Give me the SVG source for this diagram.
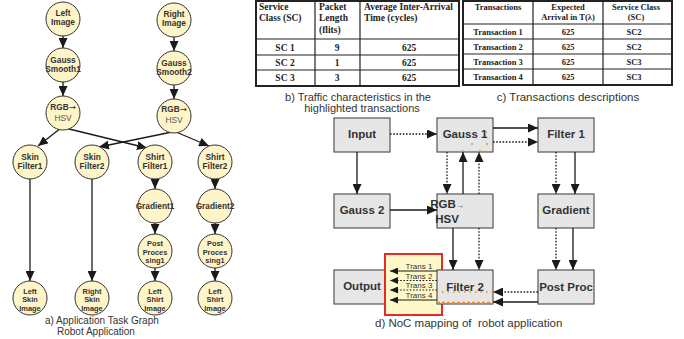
<svg xmlns="http://www.w3.org/2000/svg" width="684" height="339" viewBox="0 0 684 339">
<defs>
<marker id="ah" markerUnits="userSpaceOnUse" markerWidth="10" markerHeight="9" refX="10" refY="4.5" orient="auto"><path d="M0,0 L10,4.5 L0,9 Z" fill="#1a1a1a"/></marker>
<marker id="ahs" markerUnits="userSpaceOnUse" markerWidth="8" markerHeight="7" refX="8" refY="3.5" orient="auto"><path d="M0,0 L8,3.5 L0,7 Z" fill="#1a1a1a"/></marker>
</defs>
<style>
.c{fill:#FFF5C9;stroke:#333;stroke-width:1}
.ct{font-family:"Liberation Sans",Arial,sans-serif;font-size:8.3px;font-weight:bold;fill:#333;text-anchor:middle}
.c3{font-size:7.4px}
.hsv{font-weight:normal;fill:#555}
.ar{font-family:"DejaVu Sans",sans-serif;font-weight:normal}
.ln{stroke:#1a1a1a;stroke-width:1.3;fill:none;marker-end:url(#ah)}
.dt{stroke-dasharray:1.6 1.6}
.lns{stroke:#1a1a1a;stroke-width:1.2;fill:none;marker-end:url(#ahs)}
.box{fill:#E6E6E6;stroke:#555;stroke-width:1.2}
.bt{font-family:"Liberation Sans",Arial,sans-serif;font-size:11.5px;font-weight:bold;fill:#333;text-anchor:middle}
.tr{font-family:"Liberation Sans",Arial,sans-serif;font-size:8px;fill:#333;text-anchor:middle}
.cap{font-family:"Liberation Sans",Arial,sans-serif;fill:#333}
.tb{fill:#fff;stroke:#222;stroke-width:2}
.tl{stroke:#222;stroke-width:1.2}
.th{font-family:"Liberation Serif","Times New Roman",serif;font-weight:bold;fill:#222}
.or{stroke:#F08A24;stroke-width:1.3;fill:none}
</style>

<!-- a) task graph -->
<g id="task-graph-connectors">
<path class="ln" d="M63,36 V48"/>
<path class="ln" d="M63,82 V96"/>
<path class="ln" d="M174,37 V51"/>
<path class="ln" d="M174,85 V99"/>
<path class="ln" d="M61,128 L38,146"/>
<path class="ln" d="M65,128 L147,148"/>
<path class="ln" d="M172,132 L99,147"/>
<path class="ln" d="M176,132 L209,146"/>
<path class="ln" d="M30,179 V281"/>
<path class="ln" d="M92,179 V281"/>
<path class="ln" d="M155,179 V189"/>
<path class="ln" d="M155,223 V234"/>
<path class="ln" d="M155,268 V281"/>
<path class="ln" d="M215,179 V189"/>
<path class="ln" d="M215,223 V234"/>
<path class="ln" d="M215,268 V281"/>
</g>
<g id="t-left-image"><circle class="c" cx="63" cy="19" r="17"/><text class="ct" x="63" y="15.5">Left</text><text class="ct" x="63" y="24.5">Image</text></g>
<g id="t-gauss1"><circle class="c" cx="63" cy="65" r="17"/><text class="ct" x="63" y="62.5">Gauss</text><text class="ct" x="63" y="71.5">Smooth1</text></g>
<g id="t-rgb1"><circle class="c" cx="63" cy="113" r="17"/><text class="ct" x="63" y="110">RGB<tspan class="ar">→</tspan></text><text class="ct hsv" x="63" y="121">HSV</text></g>
<g id="t-right-image"><circle class="c" cx="174" cy="20" r="17"/><text class="ct" x="174" y="17">Right</text><text class="ct" x="174" y="26">Image</text></g>
<g id="t-gauss2"><circle class="c" cx="174" cy="68" r="17"/><text class="ct" x="174" y="65.5">Gauss</text><text class="ct" x="174" y="74.5">Smooth2</text></g>
<g id="t-rgb2"><circle class="c" cx="174" cy="116" r="17"/><text class="ct" x="174" y="112">RGB<tspan class="ar">→</tspan></text><text class="ct hsv" x="174" y="123">HSV</text></g>
<g id="t-skin1"><circle class="c" cx="30" cy="162" r="17"/><text class="ct" x="30" y="159.5">Skin</text><text class="ct" x="30" y="168.5">Filter1</text></g>
<g id="t-skin2"><circle class="c" cx="92" cy="162" r="17"/><text class="ct" x="92" y="159.5">Skin</text><text class="ct" x="92" y="168.5">Filter2</text></g>
<g id="t-shirt1"><circle class="c" cx="155" cy="162" r="17"/><text class="ct" x="155" y="159.5">Shirt</text><text class="ct" x="155" y="168.5">Filter1</text></g>
<g id="t-shirt2"><circle class="c" cx="215" cy="162" r="17"/><text class="ct" x="215" y="159.5">Shirt</text><text class="ct" x="215" y="168.5">Filter2</text></g>
<g id="t-grad1"><circle class="c" cx="155" cy="206" r="17"/><text class="ct" x="155" y="209">Gradient1</text></g>
<g id="t-grad2"><circle class="c" cx="215" cy="206" r="17"/><text class="ct" x="215" y="209">Gradient2</text></g>
<g id="t-post1"><circle class="c" cx="155" cy="251" r="17"/><text class="ct c3" x="155" y="246">Post</text><text class="ct c3" x="155" y="254.5">Proces</text><text class="ct c3" x="155" y="263">sing1</text></g>
<g id="t-post2"><circle class="c" cx="215" cy="251" r="17"/><text class="ct c3" x="215" y="246">Post</text><text class="ct c3" x="215" y="254.5">Proces</text><text class="ct c3" x="215" y="263">sing1</text></g>
<g id="t-left-skin"><circle class="c" cx="30" cy="298" r="17"/><text class="ct c3" x="30" y="293.5">Left</text><text class="ct c3" x="30" y="302">Skin</text><text class="ct c3" x="30" y="310.5">Image</text></g>
<g id="t-right-skin"><circle class="c" cx="92" cy="298" r="17"/><text class="ct c3" x="92" y="293.5">Right</text><text class="ct c3" x="92" y="302">Skin</text><text class="ct c3" x="92" y="310.5">Image</text></g>
<g id="t-left-shirt1"><circle class="c" cx="155" cy="298" r="17"/><text class="ct c3" x="155" y="293.5">Left</text><text class="ct c3" x="155" y="302">Shirt</text><text class="ct c3" x="155" y="310.5">Image</text></g>
<g id="t-left-shirt2"><circle class="c" cx="215" cy="298" r="17"/><text class="ct c3" x="215" y="293.5">Left</text><text class="ct c3" x="215" y="302">Shirt</text><text class="ct c3" x="215" y="310.5">Image</text></g>
<text class="cap" x="45" y="324" font-size="10">a) Application Task Graph</text>
<text class="cap" x="57" y="335" font-size="10">Robot Application</text>

<!-- b) table -->
<g id="table-b">
<rect class="tb" x="256" y="1" width="203" height="85"/>
<path class="tl" d="M315,1 V86 M360,1 V86 M256,39 H459 M256,55 H459 M256,70 H459"/>
<g class="th" font-size="9.5">
<text x="259" y="10">Service</text><text x="259" y="21">Class (SC)</text>
<text x="319" y="10">Packet</text><text x="319" y="21">Length</text><text x="319" y="33">(flits)</text>
<text x="364" y="10">Average Inter-Arrival</text><text x="364" y="21">Time (cycles)</text>
</g>
<g class="th" font-size="9.5" text-anchor="middle">
<text x="285" y="51">SC 1</text><text x="337" y="51">9</text><text x="409" y="51">625</text>
<text x="285" y="66">SC 2</text><text x="337" y="66">1</text><text x="409" y="66">625</text>
<text x="285" y="81">SC 3</text><text x="337" y="81">3</text><text x="409" y="81">625</text>
</g>
</g>
<text class="cap" x="358" y="101" font-size="11" text-anchor="middle">b) Traffic characteristics in the</text>
<text class="cap" x="362" y="112" font-size="11" text-anchor="middle">highlighted transactions</text>

<!-- c) table -->
<g id="table-c">
<rect class="tb" x="463" y="1" width="209" height="84"/>
<path class="tl" d="M533,1 V85 M603,1 V85 M463,24 H672 M463,39 H672 M463,54 H672 M463,69 H672"/>
<g class="th" font-size="8.5" text-anchor="middle">
<text x="498" y="10">Transactions</text>
<text x="568" y="10">Expected</text><text x="568" y="20">Arrival in T(λ)</text>
<text x="636" y="10">Service Class</text><text x="636" y="20">(SC)</text>
<text x="498" y="35">Transaction 1</text><text x="568" y="35">625</text><text x="634" y="35">SC2</text>
<text x="498" y="50">Transaction 2</text><text x="568" y="50">625</text><text x="634" y="50">SC2</text>
<text x="498" y="65">Transaction 3</text><text x="568" y="65">625</text><text x="634" y="65">SC3</text>
<text x="498" y="80">Transaction 4</text><text x="568" y="80">625</text><text x="634" y="80">SC3</text>
</g>
</g>
<text class="cap" x="568" y="101" font-size="11.5" text-anchor="middle">c) Transactions descriptions</text>

<!-- d) NoC mapping -->
<g id="n-input"><rect class="box" x="334" y="118" width="56" height="34"/><text class="bt" x="362" y="138">Input</text></g>
<g id="n-gauss1"><rect class="box" x="437" y="118" width="56" height="34"/><text class="bt" x="465" y="138">Gauss 1</text></g>
<g id="n-filter1"><rect class="box" x="538" y="118" width="56" height="34"/><text class="bt" x="566" y="138">Filter 1</text></g>
<g id="n-gauss2"><rect class="box" x="334" y="194" width="56" height="34"/><text class="bt" x="362" y="214">Gauss 2</text></g>
<g id="n-rgb"><rect class="box" x="437" y="194" width="56" height="34"/><text class="bt" x="447" y="208" text-anchor="start">RGB<tspan font-size="8">→</tspan></text><text class="bt" x="447" y="223" text-anchor="start" font-weight="normal">HSV</text></g>
<g id="n-gradient"><rect class="box" x="538" y="194" width="56" height="34"/><text class="bt" x="566" y="214">Gradient</text></g>
<g id="n-output"><rect class="box" x="334" y="270" width="56" height="34"/><text class="bt" x="362" y="290">Output</text></g>
<g id="highlight"><rect x="385" y="254" width="57" height="61" fill="#FFF8C8" stroke="#E52A2A" stroke-width="2"/></g>
<g id="n-filter2"><rect class="box" x="437" y="270" width="56" height="34"/><text class="bt" x="465" y="291">Filter 2</text></g>
<g id="n-postproc"><rect class="box" x="538" y="270" width="56" height="34"/><text class="bt" x="566" y="291">Post Proc</text></g>

<g id="noc-connectors">
<path class="ln dt" d="M390,134 H437"/>
<path class="ln" d="M493,128 H538"/>
<path class="ln dt" d="M493,142 H538"/>
<path class="ln" d="M357,152 V194"/>
<path class="ln" d="M390,210 H437"/>
<path class="ln dt" d="M447,152 V194"/>
<path class="ln" d="M463,194 V152"/>
<path class="ln dt" d="M479,194 V152"/>
<path class="ln dt" d="M556,152 V194"/>
<path class="ln" d="M575,152 V194"/>
<path class="ln" d="M453,228 V270"/>
<path class="ln dt" d="M479,228 V270"/>
<path class="ln dt" d="M556,228 V270"/>
<path class="ln" d="M573,228 V270"/>
<path class="ln dt" d="M538,292 H493"/>
<path class="ln" d="M538,302 H493"/>
<path class="lns" d="M437,271 H390"/>
<path class="lns dt" d="M437,280.5 H390"/>
<path class="lns dt" d="M437,290 H390"/>
<path class="lns" d="M437,300 H390"/>
<path class="or" d="M442,292 H493" stroke-dasharray="1.5 4"/>
<path class="or" d="M437,302.5 H493" stroke-dasharray="3 2"/>
<g fill="#F08A24"><circle cx="486" cy="132" r="0.9"/><circle cx="472" cy="144" r="0.9"/><circle cx="487" cy="144" r="0.9"/><circle cx="463" cy="151" r="0.9"/><circle cx="480" cy="151" r="0.9"/></g>
</g>
<g id="trans-labels">
<text class="tr" x="419" y="269">Trans 1</text>
<text class="tr" x="419" y="278.5">Trans 2</text>
<text class="tr" x="419" y="288">Trans 3</text>
<text class="tr" x="419" y="298">Trans 4</text>
</g>
<text class="cap" x="375" y="327" font-size="11.5" style="white-space:pre">d) NoC mapping of  robot application</text>
</svg>
